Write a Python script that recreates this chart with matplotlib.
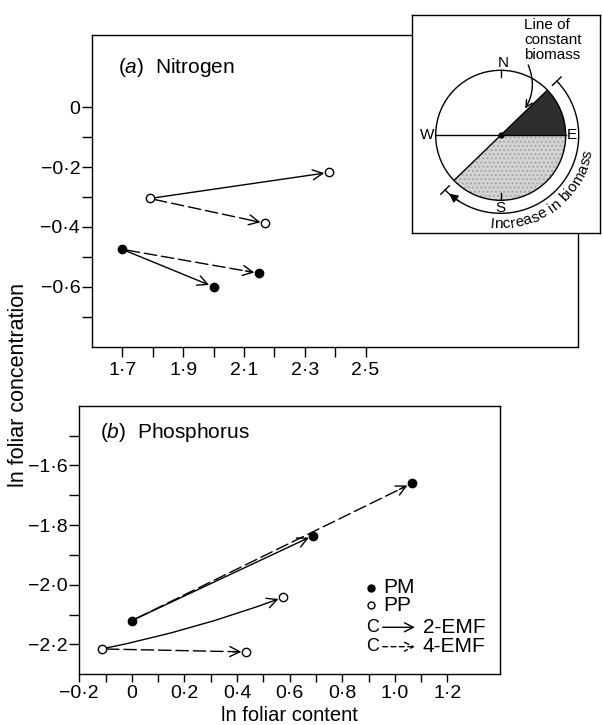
import numpy as np
import matplotlib
matplotlib.use("Agg")
import matplotlib.pyplot as plt
from matplotlib.patches import Circle, Wedge
from matplotlib.font_manager import FontProperties

plt.rcParams['font.family'] = ['Liberation Sans', 'DejaVu Sans']
plt.rcParams['mathtext.fontset'] = 'custom'
plt.rcParams['mathtext.it'] = 'Liberation Sans:italic'
plt.rcParams['mathtext.rm'] = 'Liberation Sans'

# --- data: order is control (C), 2-EMF, 4-EMF ---
n_pm_x = [1.70, 2.00, 2.15]
n_pm_y = [-0.475, -0.600, -0.555]
n_pp_x = [1.79, 2.38, 2.17]
n_pp_y = [-0.305, -0.218, -0.388]

p_pm_x = [0.00, 0.69, 1.065]
p_pm_y = [-2.12, -1.835, -1.66]
p_pp_x = [-0.115, 0.575, 0.435]
p_pp_y = [-2.215, -2.042, -2.225]

n_xticks = [1.7, 1.9, 2.1, 2.3, 2.5]
n_xminor = [1.8, 2.0, 2.2, 2.4]
n_yticks = [0.0, -0.2, -0.4, -0.6]
n_yminor = [-0.1, -0.3, -0.5, -0.7]
p_xticks = [-0.2, 0.0, 0.2, 0.4, 0.6, 0.8, 1.0, 1.2]
p_xminor = [-0.1, 0.1, 0.3, 0.5, 0.7, 0.9, 1.1]
p_yticks = [-2.2, -2.0, -1.8, -1.6]
p_yminor = [-2.1, -1.9, -1.7, -1.5]

W, H = 603, 725
DPI = 100
TICK_FS = 14
LAB_FS = 15


def fmt(v):
    s = "0" if abs(v) < 1e-9 else f"{v:.1f}"
    return s.replace('-', '\u2212').replace('.', '\u00b7')


def px_axes(fig, left, top, right, bottom):
    return fig.add_axes([left / W, 1 - bottom / H, (right - left) / W, (bottom - top) / H])


def style(ax, xt, xm, yt, ym, xlen=7, xpad=4):
    ax.set_xticks(xt)
    ax.set_xticklabels([fmt(v) for v in xt])
    ax.set_xticks(xm, minor=True)
    ax.set_yticks(yt)
    ax.set_yticklabels([fmt(v) for v in yt])
    ax.set_yticks(ym, minor=True)
    ax.tick_params(which='both', direction='out', length=7, width=1, top=False, right=False)
    ax.tick_params(axis='x', which='both', length=xlen)
    ax.tick_params(axis='x', which='major', pad=xpad, labelsize=TICK_FS)
    ax.tick_params(axis='y', which='major', pad=1.5, labelsize=TICK_FS)
    for sp in ax.spines.values():
        sp.set_linewidth(1.0)


def arrow(ax, x0, y0, x1, y1, dashed=False, rad=0.0):
    shrink = 3.5
    if not dashed:
        ax.annotate('', xy=(x1, y1), xytext=(x0, y0),
                    arrowprops=dict(arrowstyle='->', lw=1, color='k', shrinkA=shrink,
                                    shrinkB=shrink, mutation_scale=18,
                                    connectionstyle=f'arc3,rad={rad}'))
        return
    ax.annotate('', xy=(x1, y1), xytext=(x0, y0),
                arrowprops=dict(arrowstyle='-', lw=1, color='k', ls=(0, (9, 3.5)),
                                shrinkA=shrink, shrinkB=shrink + 2))
    # short solid piece carrying the head
    p0 = ax.transData.transform((x0, y0))
    p1 = ax.transData.transform((x1, y1))
    u = (p1 - p0) / np.hypot(*(p1 - p0))
    ph = p1 - u * (shrink * DPI / 72 + 9)
    hx, hy = ax.transData.inverted().transform(ph)
    ax.annotate('', xy=(x1, y1), xytext=(hx, hy),
                arrowprops=dict(arrowstyle='->', lw=1, color='k', shrinkA=0,
                                shrinkB=shrink, mutation_scale=18))


def draw_panel(ax, pm_x, pm_y, pp_x, pp_y, pp_rad=0.0):
    arrow(ax, pm_x[0], pm_y[0], pm_x[1], pm_y[1])
    arrow(ax, pm_x[0], pm_y[0], pm_x[2], pm_y[2], dashed=True)
    arrow(ax, pp_x[0], pp_y[0], pp_x[1], pp_y[1], rad=pp_rad)
    arrow(ax, pp_x[0], pp_y[0], pp_x[2], pp_y[2], dashed=True)
    ax.plot(pm_x, pm_y, 'o', ms=6, mfc='k', mec='k', mew=1, ls='none', zorder=5)
    ax.plot(pp_x, pp_y, 'o', ms=6, mfc='white', mec='k', mew=1, ls='none', zorder=5)


fig = plt.figure(figsize=(W / DPI, H / DPI), dpi=DPI)
renderer = fig.canvas.get_renderer()

# panel (a) Nitrogen
ax_a = px_axes(fig, 92, 35.3, 578.3, 346.7)
ax_a.set_xlim(1.6, 3.2)
ax_a.set_ylim(-0.8, 0.24)
style(ax_a, n_xticks, n_xminor, n_yticks, n_yminor)
draw_panel(ax_a, n_pm_x, n_pm_y, n_pp_x, n_pp_y)
ax_a.text(0.054, 0.896, r'($\mathit{a}$)  Nitrogen', transform=ax_a.transAxes,
          fontsize=LAB_FS, va='center', ha='left')

# panel (b) Phosphorus
ax_b = px_axes(fig, 79.3, 405.7, 500, 674.3)
ax_b.set_xlim(-0.2, 1.4)
ax_b.set_ylim(-2.3, -1.4)
style(ax_b, p_xticks, p_xminor, p_yticks, p_yminor, xlen=6, xpad=1.5)
draw_panel(ax_b, p_pm_x, p_pm_y, p_pp_x, p_pp_y, pp_rad=0.04)
ax_b.text(0.049, 0.8995, r'($\mathit{b}$)  Phosphorus', transform=ax_b.transAxes,
          fontsize=LAB_FS, va='center', ha='left')

# legend (b)
tb = ax_b.transAxes
ax_b.plot([0.6934], [0.3224], 'o', ms=5, mfc='k', mec='k', transform=tb, clip_on=False)
ax_b.plot([0.6934], [0.258], 'o', ms=5, mfc='white', mec='k', mew=1, transform=tb, clip_on=False)
ax_b.text(0.7226, 0.3224, 'PM', transform=tb, fontsize=LAB_FS, va='center')
ax_b.text(0.7226, 0.258, 'PP', transform=tb, fontsize=LAB_FS, va='center')
for yy, lab, ls in [(0.175, '2-EMF', '-'), (0.1028, '4-EMF', (0, (3.5, 2.5)))]:
    ax_b.text(0.6974, yy, 'C', transform=tb, fontsize=13, va='center', ha='center')
    ax_b.annotate('', xy=(0.7978, yy), xytext=(0.7212, yy), xycoords=tb, textcoords=tb,
                  arrowprops=dict(arrowstyle='->', lw=1, ls=ls, color='k', shrinkA=0,
                                  shrinkB=0, mutation_scale=16))
    ax_b.text(0.8163, yy, lab, transform=tb, fontsize=LAB_FS, va='center')

fig.text(18.5 / W, 1 - 385 / H, 'ln foliar concentration', rotation=90,
         fontsize=LAB_FS + 0.5, ha='center', va='center')
fig.text(289.7 / W, 1 - 721 / H, 'ln foliar content', fontsize=14.5,
         ha='center', va='baseline')

# inset compass diagram (units = pixels)
iw, ih = 188.3, 218
ins = px_axes(fig, 411.7, 15, 411.7 + iw, 233)
ins.set_xlim(0, iw)
ins.set_ylim(0, ih)
ins.set_xticks([])
ins.set_yticks([])
ins.set_facecolor('white')
for sp in ins.spines.values():
    sp.set_linewidth(1.0)

cx, cy, r = 89, 97.7, 65
ang_line = 44
ins.add_patch(Wedge((cx, cy), r, 0, ang_line, facecolor='#2e2e2e', edgecolor='none'))
ins.add_patch(Wedge((cx, cy), r, 180 + ang_line, 360, facecolor='#d4d4d4',
                    edgecolor='#a8a8a8', hatch='....', lw=0))
ins.add_patch(Circle((cx, cy), r, fill=False, lw=1, ec='k'))
ins.plot([cx - r, cx + r], [cy, cy], color='k', lw=1)
t = np.deg2rad(ang_line)
ins.plot([cx - r * np.cos(t), cx + r * np.cos(t)], [cy - r * np.sin(t), cy + r * np.sin(t)],
         color='k', lw=1)
ins.plot([cx], [cy], 'o', ms=3.5, color='k')
ins.plot([cx, cx], [cy + r, cy + r - 7], color='k', lw=1)
ins.plot([cx, cx], [cy - r, cy - r + 7], color='k', lw=1)
cfs = 11
ins.text(cx + 3, cy + r + 7, 'N', fontsize=cfs, ha='center', va='center')
ins.text(cx, cy - r - 8, 'S', fontsize=cfs, ha='center', va='center')
ins.text(cx - r - 1, cy, 'W', fontsize=cfs, ha='right', va='center')
ins.text(cx + r + 1, cy, 'E', fontsize=cfs, ha='left', va='center')

for k, s in enumerate(['Line of', 'constant', 'biomass']):
    ins.text(112.3, 208 - 15 * k, s, fontsize=cfs, ha='left', va='center')
ins.annotate('', xy=(113.5, 124.5), xytext=(116.5, 168),
             arrowprops=dict(arrowstyle='->', lw=1, color='k', shrinkA=0, shrinkB=0,
                             mutation_scale=12, connectionstyle='arc3,rad=-0.25'))

# outer arc: increase in biomass
ra = 78
a0, a1 = ang_line, -135.5
th = np.deg2rad(np.linspace(a1, a0, 120))
ins.plot(cx + ra * np.cos(th), cy + ra * np.sin(th), color='k', lw=1)
for a in (a0, a1):
    ar = np.deg2rad(a)
    ins.plot([cx + (ra - 6) * np.cos(ar), cx + (ra + 6) * np.cos(ar)],
             [cy + (ra - 6) * np.sin(ar), cy + (ra + 6) * np.sin(ar)], color='k', lw=1)
tip = np.deg2rad(-131.5)
back = np.deg2rad(-122)
ins.annotate('', xy=(cx + ra * np.cos(tip), cy + ra * np.sin(tip)),
             xytext=(cx + ra * np.cos(back), cy + ra * np.sin(back)),
             arrowprops=dict(arrowstyle='-|>', lw=1, color='k', shrinkA=0, shrinkB=0,
                             mutation_scale=13))

# curved label along the arc
label = 'Increase in biomass'
fp = FontProperties(family='Liberation Sans', size=cfs)


def wpx(s):
    return renderer.get_text_width_height_descent(s, fp, ismath=False)[0]


rt = 89
start = np.deg2rad(-97)
xw = wpx('x')
for i, ch in enumerate(label):
    if ch == ' ':
        continue
    adv = wpx(label[:i] + 'x') - xw if i > 0 else 0.0
    pos = adv + wpx(ch) / 2
    a = start + pos / rt
    ins.text(cx + rt * np.cos(a), cy + rt * np.sin(a), ch, fontsize=cfs,
             rotation=np.rad2deg(a) + 90, rotation_mode='anchor',
             ha='center', va='center')

fig.savefig('out.png', dpi=DPI)
